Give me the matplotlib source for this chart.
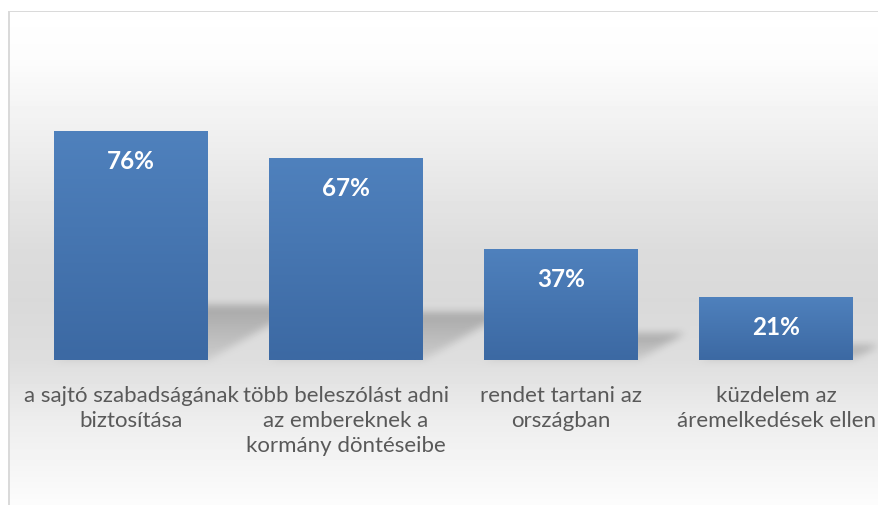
import numpy as np
import matplotlib
matplotlib.use('Agg')
import matplotlib.pyplot as plt
from matplotlib.colors import LinearSegmentedColormap

# data
categories = ["a sajtó szabadságának\nbiztosítása",
              "több beleszólást adni\naz embereknek a\nkormány döntéseibe",
              "rendet tartani az\nországban",
              "küzdelem az\náremelkedések ellen"]
values = [76, 67, 37, 21]

W, H = 879, 505
fig = plt.figure(figsize=(W / 100.0, H / 100.0), dpi=100)
ax = fig.add_axes([0, 0, 1, 1])
xlim = (-0.6093, 3.479)
ylim = (-48.12, 119.47)
ax.set_xlim(xlim)
ax.set_ylim(ylim)
ax.axis('off')

bar_width = 0.716

# background: light gray gradient in a frame
rows = np.arange(H) + 0.5
profile = np.interp(rows, [11, 60, 130, 250, 300, 360, 420, 505],
                    [255, 252, 240, 220, 217, 222, 237, 252])
bg = np.repeat(profile[:, None], W, axis=1)
bg[:11, :] = 255
bg[:, :8] = 255
bg[11, 8:] = 218
bg[11:, 8:10] = 218

# perspective shadows behind the bars
shadow = np.zeros((H, W))
cols = np.arange(W) + 0.5
for i, v in enumerate(values):
    (px0, pyb), (px1, pyt) = ax.transData.transform([(i - bar_width / 2, 0), (i + bar_width / 2, v)])
    base_r = H - pyb
    hp = pyt - pyb
    rise = 0.24 * hp
    shift = 0.42 * hp
    for r in range(int(base_r - rise), int(base_r) + 1):
        t = (base_r - (r + 0.5)) / rise
        if t < 0 or t > 1:
            continue
        inside = (cols >= px0 + shift * t) & (cols <= px1 + shift * t)
        shadow[r, inside] = np.maximum(shadow[r, inside], 0.08 + 0.15 * t)

def box_blur(a, r):
    k = np.ones(2 * r + 1) / (2 * r + 1)
    a = np.apply_along_axis(lambda m: np.convolve(m, k, mode='same'), 0, a)
    a = np.apply_along_axis(lambda m: np.convolve(m, k, mode='same'), 1, a)
    return a

shadow = box_blur(box_blur(shadow, 4), 4)
img = bg * (1 - shadow)
ax.imshow(img, cmap='gray', vmin=0, vmax=255, extent=(xlim[0], xlim[1], ylim[0], ylim[1]),
          aspect='auto', origin='upper', interpolation='nearest', zorder=0)

# bars with vertical gradient
bar_cmap = LinearSegmentedColormap.from_list('bar', ['#4f81bd', '#3c69a3'])
bars = ax.bar(range(len(values)), values, width=bar_width, color='none', edgecolor='none', zorder=2)
grad = np.linspace(0, 1, 128)[:, None]
for i, (b, v) in enumerate(zip(bars, values)):
    im = ax.imshow(grad, cmap=bar_cmap, extent=(i - bar_width / 2, i + bar_width / 2, 0, v),
                   aspect='auto', origin='upper', zorder=2)
    im.set_clip_path(b)
    ax.annotate("%d%%" % v, xy=(i, v), xytext=(0, -27.4), textcoords='offset points',
                ha='center', va='baseline', color='white', fontsize=17.5,
                fontweight='bold', family='Lato', zorder=3)

# category labels
for i, cat in enumerate(categories):
    for k, line in enumerate(cat.split("\n")):
        ax.annotate(line, xy=(i, 0), xytext=(0, -(42 + 25 * k) * 0.72), textcoords='offset points',
                    ha='center', va='baseline', color='#595959', fontsize=16,
                    family='Lato', zorder=3)

ax.set_xlim(xlim)
ax.set_ylim(ylim)
fig.savefig('out.png', dpi=100)
